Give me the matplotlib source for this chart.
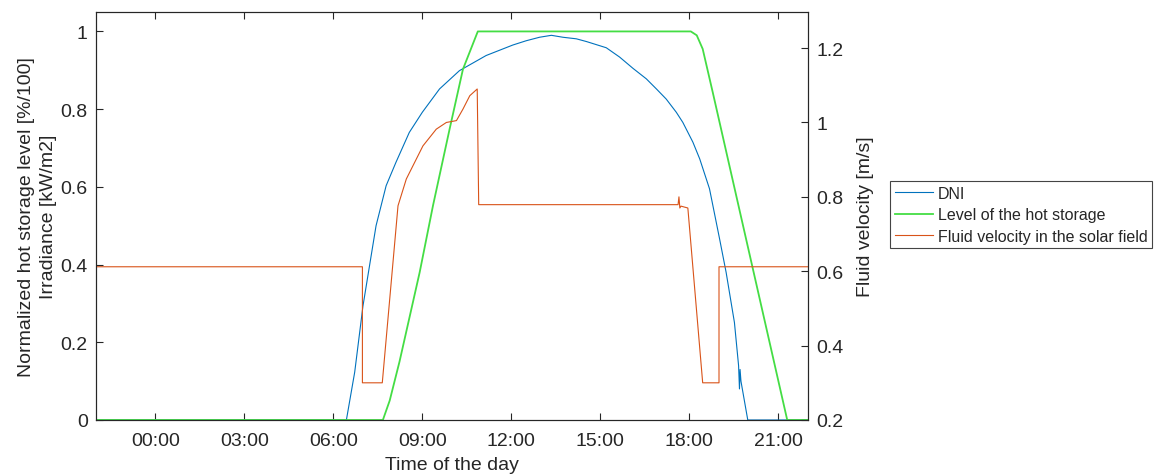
import matplotlib
matplotlib.use("Agg")
import matplotlib.pyplot as plt

plt.rcParams['font.family'] = ['Liberation Sans', 'DejaVu Sans']

# hours relative to midnight (window runs 22:00 previous day -> 22:00)
dni_t = [-2, 6.44, 6.72, 7.0, 7.22, 7.44, 7.78, 8.11, 8.56, 9.0, 9.58, 10.25,
         11.15, 12.05, 12.5, 12.95, 13.35, 13.74, 14.19, 14.53, 15.2, 15.65, 16.1,
         16.55, 16.89, 17.22, 17.56, 17.78, 18.12, 18.35, 18.68, 19.02, 19.24,
         19.52, 19.66, 19.69, 19.71, 19.74, 19.97, 22]
dni_v = [0, 0, 0.123, 0.294, 0.397, 0.5, 0.603, 0.663, 0.74, 0.792, 0.852, 0.899,
         0.938, 0.965, 0.976, 0.985, 0.99, 0.985, 0.981, 0.974, 0.958, 0.934, 0.905,
         0.878, 0.852, 0.826, 0.792, 0.766, 0.715, 0.672, 0.595, 0.466, 0.38,
         0.251, 0.14, 0.08, 0.13, 0.1, 0, 0]

lvl_t = [-2, 7.67, 7.9, 8.23, 8.91, 9.36, 9.92, 10.37, 10.87, 18.05, 18.25, 18.45,
         18.79, 21.30, 22]
lvl_v = [0, 0, 0.05, 0.15, 0.38, 0.552, 0.749, 0.903, 1.0, 1.0, 0.99, 0.955,
         0.843, 0, 0]

vel_t = [-2, 6.98, 6.98, 7.65, 8.18, 8.46, 9.02, 9.47, 9.81, 10.15, 10.37, 10.60,
         10.85, 10.9, 17.62, 17.65, 17.68, 17.72, 17.95, 18.45, 19.0, 19.0, 22]
vel_v = [0.612, 0.612, 0.30, 0.30, 0.776, 0.848, 0.937, 0.982, 1.0, 1.005, 1.036, 1.072,
         1.09, 0.779, 0.779, 0.80, 0.77, 0.775, 0.77, 0.30, 0.30, 0.612, 0.612]

xtick_pos = [0, 3, 6, 9, 12, 15, 18, 21]
xtick_lab = ['00:00', '03:00', '06:00', '09:00', '12:00', '15:00', '18:00', '21:00']

c_dni = '#0072BD'
c_lvl = '#44dd44'
c_vel = '#D95319'
dark = '#262626'

fig = plt.figure(figsize=(11.6, 4.77), dpi=100)
ax = fig.add_axes([96/1160, 56/477, 712/1160, 408/477])
ax2 = ax.twinx()

l1, = ax.plot(dni_t, dni_v, color=c_dni, lw=0.8, label='DNI')
l2, = ax.plot(lvl_t, lvl_v, color=c_lvl, lw=1.3, label='Level of the hot storage')
l3, = ax2.plot(vel_t, vel_v, color=c_vel, lw=0.8, label='Fluid velocity in the solar field')

ax.set_xlim(-2, 22)
ax.set_ylim(0, 1.05)
ax2.set_ylim(0.2, 1.297)
ax.set_xticks(xtick_pos)
ax.set_xticklabels(xtick_lab)
ax.set_yticks([0, 0.2, 0.4, 0.6, 0.8, 1])
ax.set_yticklabels(['0', '0.2', '0.4', '0.6', '0.8', '1'])
ax2.set_yticks([0.2, 0.4, 0.6, 0.8, 1, 1.2])
ax2.set_yticklabels(['0.2', '0.4', '0.6', '0.8', '1', '1.2'])

for a in (ax, ax2):
    for s in a.spines.values():
        s.set_color(dark)
        s.set_linewidth(0.8)
ax.tick_params(axis='x', direction='in', top=True, length=5, width=0.8,
               colors=dark, labelsize=14, pad=9)
ax.tick_params(axis='y', direction='in', length=5, width=0.8,
               colors=dark, labelsize=14, pad=6)
ax2.tick_params(axis='y', direction='in', length=5, width=0.8,
                colors=dark, labelsize=14, pad=6)

ax.set_xlabel('Time of the day', fontsize=14, color=dark)
ax.xaxis.set_label_coords(0.5, -0.088)
ax.set_ylabel('Normalized hot storage level [%/100]\nIrradiance [kW/m2]',
              fontsize=14, color=dark, linespacing=1.4)
ax.yaxis.set_label_coords(-0.055, 0.5)
ax2.set_ylabel('Fluid velocity [m/s]', fontsize=14, color=dark)
ax2.yaxis.set_label_coords(1.069, 0.5)

leg = fig.legend(handles=[l1, l2, l3], loc='upper left',
                 bbox_to_anchor=(890/1160, 1 - 182/477), fontsize=11.5,
                 frameon=True, fancybox=False, framealpha=1, borderpad=0.3,
                 handlelength=2.4, handletextpad=0.3, labelspacing=0.4,
                 borderaxespad=0)
leg.get_frame().set_edgecolor('#444444')
leg.get_frame().set_linewidth(0.8)
for t in leg.get_texts():
    t.set_color(dark)

fig.savefig('out.png', dpi=100)
